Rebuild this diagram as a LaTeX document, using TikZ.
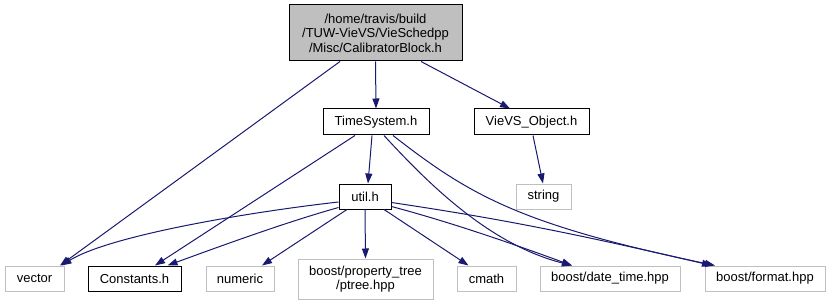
\documentclass[tikz,border=0pt]{standalone}
\usepackage{fontspec}
\setmainfont{Liberation Sans}
\usetikzlibrary{shapes,arrows.meta}
\definecolor{edgeblue}{RGB}{25,25,112}
\definecolor{boxgray}{RGB}{191,191,191}
\tikzstyle{file} = [rectangle, draw=black, line width=1pt, inner sep=0pt,
    font=\fontsize{13}{14.5}\selectfont, minimum height=26pt]
\tikzstyle{sysfile} = [file, draw=boxgray]
\tikzstyle{dep} = [draw=edgeblue, line width=1pt, -{Triangle[length=10pt,width=7pt]}]

\begin{document}
\begin{tikzpicture}[x=1pt, y=-1pt]
    \useasboundingbox (0,0) rectangle (831,305);

    \node[file, fill=boxgray, minimum width=173pt, minimum height=56pt, align=center] (root) at (375.5,33)
      {/home/travis/build\\/TUW-VieVS/VieSchedpp\\/Misc/CalibratorBlock.h};
    \node[file, minimum width=106pt] (timesystem) at (376,122) {TimeSystem.h};
    \node[file, minimum width=115pt] (vievsobject) at (531.5,122) {VieVS\_Object.h};
    \node[file, minimum width=52pt, minimum height=25pt] (util) at (365,196.5) {util.h};
    \node[sysfile, minimum width=55pt, minimum height=25pt] (string) at (543.5,196.5) {string};
    \node[sysfile, minimum width=59pt, minimum height=25pt] (vector) at (34.5,278.5) {vector};
    \node[file, minimum width=93pt, minimum height=25pt] (constants) at (134.5,278.5) {Constants.h};
    \node[sysfile, minimum width=68pt, minimum height=25pt] (numeric) at (240,278.5) {numeric};
    \node[sysfile, minimum width=135pt, minimum height=40pt, align=center] (ptree) at (365.5,279)
      {boost/property\_tree\\/ptree.hpp};
    \node[sysfile, minimum width=59pt, minimum height=25pt] (cmath) at (486.5,278.5) {cmath};
    \node[sysfile, minimum width=140pt, minimum height=25pt] (datetime) at (610,278.5) {boost/date\_time.hpp};
    \node[sysfile, minimum width=120pt, minimum height=25pt] (format) at (765,278.5) {boost/format.hpp};

    \draw[dep] ([xshift=-35.5pt]root.south) -- ([xshift=25.5pt]vector.north);
    \draw[dep] (root.south) -- (timesystem.north);
    \draw[dep] ([xshift=45.5pt]root.south) -- ([xshift=-21.5pt]vievsobject.north);

    \draw[dep] ([xshift=-21pt]timesystem.south) -- ([xshift=20.5pt]constants.north);
    \draw[dep] ([xshift=-4pt]timesystem.south) -- ([xshift=3pt]util.north);
    \draw[dep] ([xshift=8pt]timesystem.south) .. controls +(46,50) and +(-82,-21) .. ([xshift=-38pt]datetime.north);
    \draw[dep] ([xshift=17pt]timesystem.south) .. controls +(77,60) and +(-195,-41) .. ([xshift=-50pt]format.north);
    \draw[dep] ([xshift=1.5pt]vievsobject.south) -- ([xshift=-0.5pt]string.north);

    \draw[dep] ([yshift=-5.5pt]util.west) .. controls +(-89,10) and +(48,-30) .. ([xshift=27pt]vector.north);
    \draw[dep] ([yshift=-11pt]util.west) .. controls +(-50,14) and +(60,-22) .. ([xshift=33pt]constants.north);
    \draw[dep] ([xshift=-18pt]util.south) -- ([xshift=22pt]numeric.north);
    \draw[dep] (util.south) -- (ptree.north);
    \draw[dep] ([xshift=19pt]util.south) -- ([xshift=-18pt]cmath.north);
    \draw[dep] ([yshift=-10pt]util.east) .. controls +(60,16) and +(-60,-22) .. ([xshift=-38pt]datetime.north);
    \draw[dep] ([yshift=-6pt]util.east) .. controls +(100,15) and +(-150,-35) .. ([xshift=-53pt]format.north);
\end{tikzpicture}
\end{document}
